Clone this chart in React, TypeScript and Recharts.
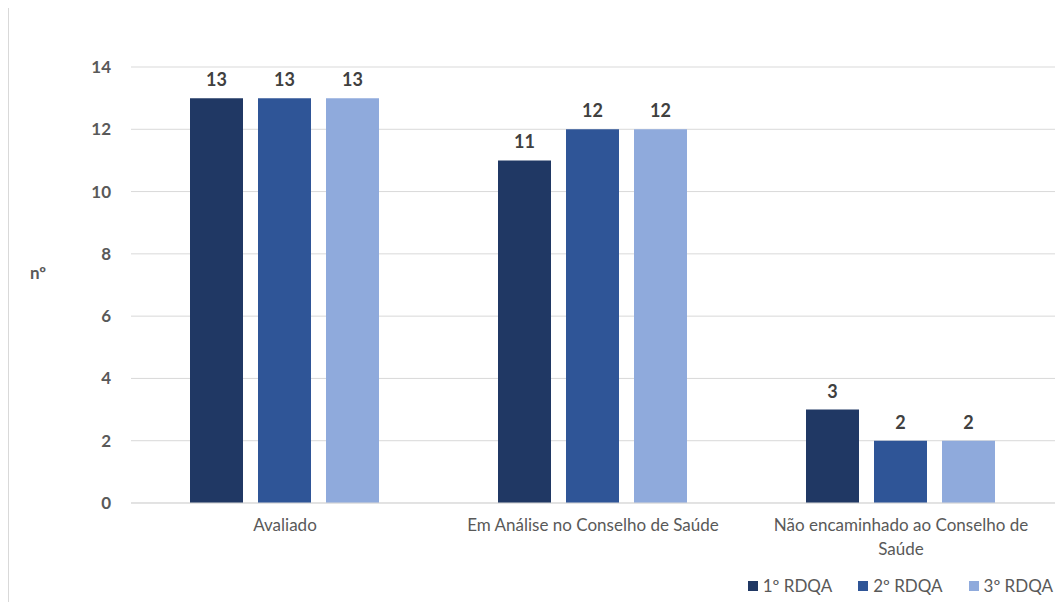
import { Bar, BarChart, CartesianGrid, LabelList, Legend, Text, XAxis, YAxis } from "recharts";

const categories = ["Avaliado", "Em Análise no Conselho de Saúde", "Não encaminhado ao Conselho de Saúde"];
const rdqa1 = [13, 11, 3];
const rdqa2 = [13, 12, 2];
const rdqa3 = [13, 12, 2];
const yTicks = [0, 2, 4, 6, 8, 10, 12, 14];

const series = [
  { key: "r1", name: "1º RDQA", color: "#203864" },
  { key: "r2", name: "2º RDQA", color: "#2F5597" },
  { key: "r3", name: "3º RDQA", color: "#8FAADC" },
];

const data = categories.map((name, i) => ({ name, r1: rdqa1[i], r2: rdqa2[i], r3: rdqa3[i] }));

const FONT = "Lato, 'Noto Sans', sans-serif";

function CategoryTick(props: any) {
  const { x, y, payload } = props;
  return (
    <Text
      x={x}
      y={y + 8}
      width={275}
      textAnchor="middle"
      verticalAnchor="start"
      fill="#595959"
      style={{ fontSize: 17, fontFamily: FONT }}
      lineHeight={24}
    >
      {payload.value}
    </Text>
  );
}

function LegendContent() {
  return (
    <div style={{ display: "flex", justifyContent: "flex-end", gap: 26, fontFamily: FONT, fontSize: 17, color: "#595959", paddingRight: 2 }}>
      {series.map((s) => (
        <div key={s.key} style={{ display: "flex", alignItems: "center", gap: 5 }}>
          <span style={{ width: 10, height: 10, background: s.color, display: "inline-block" }} />
          <span>{s.name}</span>
        </div>
      ))}
    </div>
  );
}

export default function App() {
  return (
    <div style={{ marginTop: -2, width: 1055, height: 596, border: "1px solid #D9D9D9", borderRight: "none", borderBottom: "none", background: "#fff", boxSizing: "border-box" }}>
      <BarChart
        width={1054}
        height={595}
        data={data}
        margin={{ top: 60, right: 8, left: 0, bottom: 10 }}
        barCategoryGap={59}
        barGap={15}
      >
        <CartesianGrid vertical={false} stroke="#D9D9D9" />
        <XAxis
          dataKey="name"
          axisLine={{ stroke: "#D9D9D9" }}
          tickLine={false}
          tick={<CategoryTick />}
          height={68}
          interval={0}
        />
        <YAxis
          width={122}
          domain={[0, 14]}
          ticks={yTicks}
          axisLine={false}
          tickLine={false}
          tickSize={0}
          tickMargin={20}
          tick={{ fill: "#595959", fontSize: 17, fontWeight: 700, fontFamily: FONT }}
          label={{ value: "nº", angle: 0, position: "insideLeft", offset: 21, dy: -12, fill: "#595959", fontSize: 17, fontWeight: 700, fontFamily: FONT }}
        />
        <Legend verticalAlign="bottom" align="right" content={<LegendContent />} wrapperStyle={{ bottom: 6 }} />
        {series.map((s) => (
          <Bar key={s.key} dataKey={s.key} name={s.name} fill={s.color} isAnimationActive={false}>
            <LabelList dataKey={s.key} position="top" offset={12} fill="#404040" fontSize={18} fontWeight={700} fontFamily={FONT} />
          </Bar>
        ))}
      </BarChart>
    </div>
  );
}
